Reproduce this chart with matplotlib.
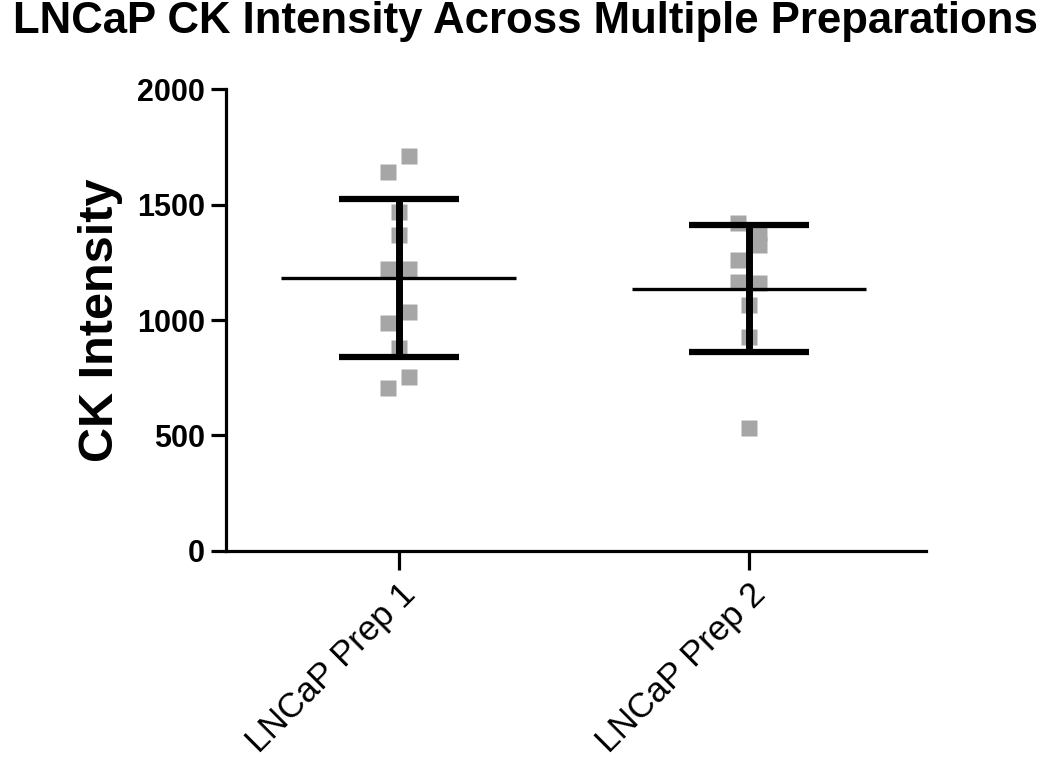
import matplotlib
matplotlib.use("Agg")
import matplotlib.pyplot as plt
import numpy as np

plt.rcParams['font.family'] = ['Liberation Sans', 'DejaVu Sans']

# data
groups = ['LNCaP Prep 1', 'LNCaP Prep 2']
prep1 = [1710, 1641, 1468, 1368, 1221, 1221, 1035, 987, 879, 753, 706]
prep2 = [1420, 1377, 1325, 1260, 1165, 1160, 1065, 926, 532]
# scatter slot of each point (-1 left, 0 centre, 1 right)
slots1 = [1, -1, 0, 0, -1, 1, 1, -1, 0, 1, -1]
slots2 = [-1, 1, 1, -1, -1, 1, 0, 0, 0]
yticks = [0, 500, 1000, 1500, 2000]

fig = plt.figure(figsize=(10.5, 7.63), dpi=100)
ax = fig.add_axes([0.215, 0.278, 0.667, 0.605])

step = 0.03
for i, (vals, slots) in enumerate([(prep1, slots1), (prep2, slots2)]):
    vals = np.array(vals, dtype=float)
    xs = i + step * np.array(slots)
    ax.plot(xs, vals, 's', ms=11, color='#a6a6a6', mec='none', zorder=2)
    m = vals.mean()
    sd = vals.std(ddof=1)
    ax.hlines(m, i - 0.335, i + 0.335, color='black', lw=2.4, zorder=3)
    ax.errorbar(i, m, yerr=sd, fmt='none', ecolor='black', elinewidth=5,
                capsize=43, capthick=4.5, zorder=3)

ax.set_xlim(-0.494, 1.506)
ax.set_ylim(0, 2000)
ax.set_yticks(yticks)
ax.set_yticklabels([str(t) for t in yticks], fontsize=22, fontweight='bold')
ax.set_xticks(range(len(groups)))
ax.set_xticklabels(groups, fontsize=25, rotation=45, ha='right',
                   rotation_mode='anchor')

for s in ['top', 'right']:
    ax.spines[s].set_visible(False)
for s in ['left', 'bottom']:
    ax.spines[s].set_linewidth(2.3)
ax.tick_params(axis='y', length=11, width=2.3, pad=4)
ax.tick_params(axis='x', length=14, width=2.3, pad=5)

ax.set_ylabel('CK Intensity', fontsize=35, fontweight='bold', labelpad=10)

fig.text(0.5, 0.957, 'LNCaP CK Intensity Across Multiple Preparations',
         ha='center', va='baseline', fontsize=31.5, fontweight='bold')

fig.savefig('out.png', dpi=100)
